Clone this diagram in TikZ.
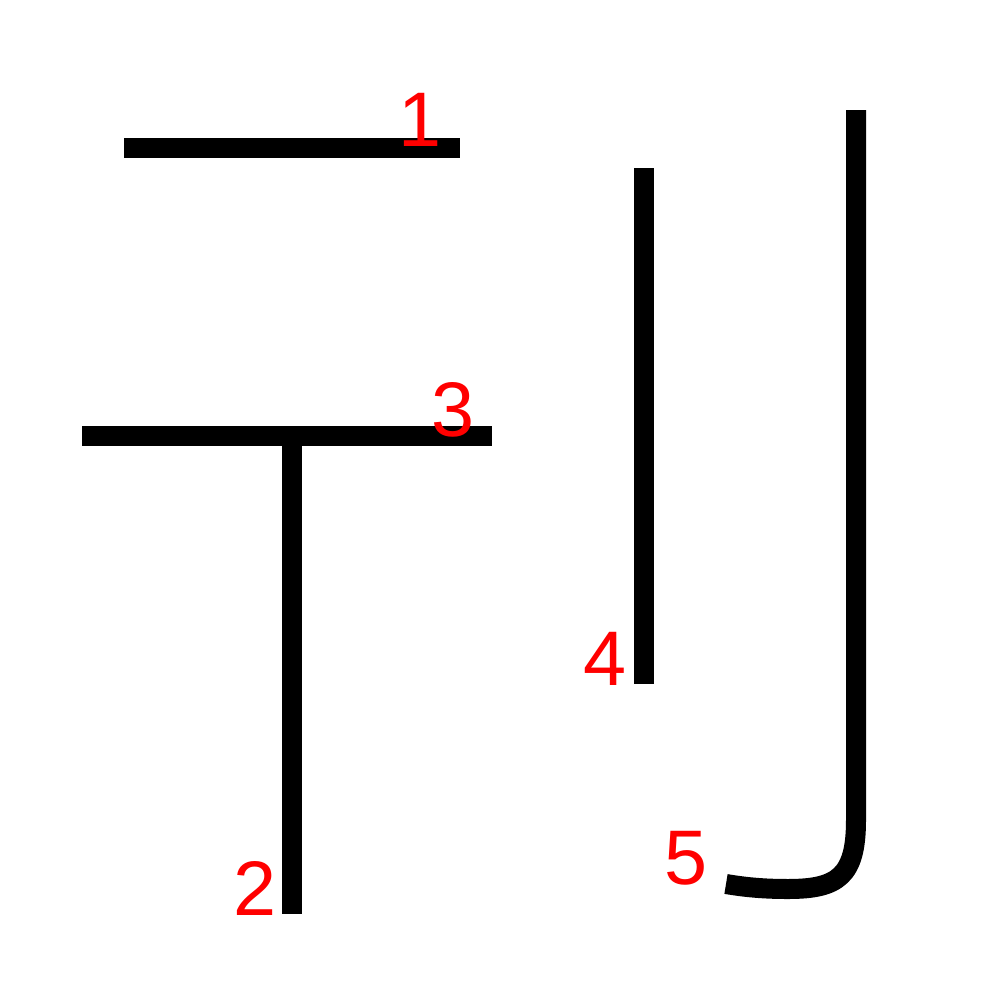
\documentclass[tikz,border=0pt]{standalone}
\usepackage{fontspec}
\setmainfont{Liberation Sans}
\usetikzlibrary{positioning}

\begin{document}
\begin{tikzpicture}[x=0.01cm, y=-0.01cm]
      \tikzstyle{stroke} = [draw, line width=0.2cm, line cap=butt]
      \tikzstyle{num} = [text=red, inner sep=0pt,
                         font=\fontsize{22}{22}\selectfont]
      \useasboundingbox (0,0) rectangle (1000,1000);
      % strokes
      \draw[stroke] (124,148) -- (460,148);
      \draw[stroke] (292,436) -- (292,914);
      \draw[stroke] (82,436) -- (492,436);
      \draw[stroke] (644,168) -- (644,684);
      \draw[stroke] (856,110) -- (856,820)
                    .. controls (856,876) and (838,889) .. (788,889)
                    .. controls (762,889) and (744,887) .. (726,884);
      % stroke numbers
      \node[num] (n1) at (420,120) {1};
      \node[num] (n2) at (255,888) {2};
      \node[num] (n3) at (453,410) {3};
      \node[num] (n4) at (605,659) {4};
      \node[num] (n5) at (686,858) {5};
    \end{tikzpicture}
\end{document}
